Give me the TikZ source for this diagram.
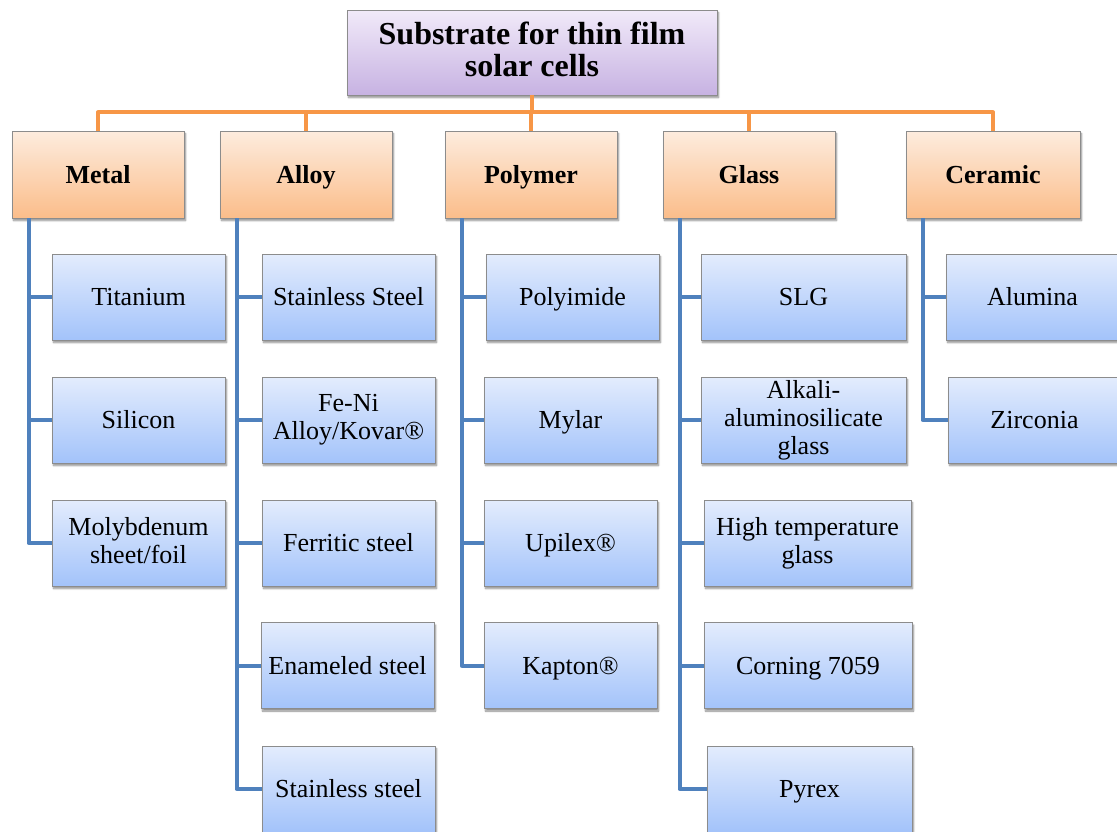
\documentclass[tikz,border=0pt]{standalone}
\usepackage{fontspec}
\setmainfont{Liberation Serif}
\usetikzlibrary{shadows.blur}

\definecolor{rootTop}{RGB}{241,234,249}
\definecolor{rootBot}{RGB}{199,178,226}
\definecolor{catTop}{RGB}{253,236,222}
\definecolor{catBot}{RGB}{251,189,138}
\definecolor{itemTop}{RGB}{227,236,253}
\definecolor{itemBot}{RGB}{163,195,250}
\definecolor{boxBorder}{RGB}{140,140,140}
\definecolor{orangeLine}{RGB}{247,150,70}
\definecolor{blueLine}{RGB}{79,129,189}

\tikzset{
  box/.style={draw=boxBorder, line width=0.8pt, inner sep=0pt, align=center,
    execute at begin node={\rule{0pt}{0.87em}}, execute at end node={\vphantom{y}},
    blur shadow={shadow xshift=1.5pt, shadow yshift=-2.5pt, shadow blur steps=5, shadow opacity=45}},
  rootbox/.style={box, top color=rootTop, bottom color=rootBot,
    execute at begin node={\rule{0pt}{1.06em}},
    minimum width=370pt, minimum height=85pt, font=\fontsize{32}{32}\selectfont\bfseries},
  catbox/.style={box, top color=catTop, bottom color=catBot,
    minimum width=172pt, minimum height=87pt, font=\fontsize{26}{28}\selectfont\bfseries},
  itembox/.style={box, top color=itemTop, bottom color=itemBot,
    minimum width=173pt, minimum height=86pt, font=\fontsize{26}{28}\selectfont},
  orangeline/.style={draw=orangeLine, line width=4pt, line join=round},
  blueline/.style={draw=blueLine, line width=4pt, line join=round},
}

\begin{document}
\begin{tikzpicture}[x=1pt,y=-1pt]
\useasboundingbox (0,0) rectangle (1117,831);
\clip (0,0) rectangle (1117,831);

% root
\node[rootbox] (root) at (532,52.5) {Substrate for thin film\\solar cells};

% categories
\node[catbox] (metal) at (98,174.5) {Metal};
\node[catbox] (alloy) at (306,174.5) {Alloy};
\node[catbox] (polymer) at (531,174.5) {Polymer};
\node[catbox] (glass) at (749,174.5) {Glass};
\node[catbox, minimum width=174pt] (ceramic) at (993,174.5) {Ceramic};

% metal
\node[itembox] (titanium) at (138.5,297) {Titanium};
\node[itembox] (silicon) at (138.5,420) {Silicon};
\node[itembox] (molybdenum) at (138.5,543) {Molybdenum\\sheet/foil};

% alloy
\node[itembox] (stainless) at (348.5,297) {Stainless Steel};
\node[itembox] (kovar) at (348.5,420) {Fe-Ni\\Alloy/Kovar®};
\node[itembox] (ferritic) at (348.5,543) {Ferritic steel};
\node[itembox] (enameled) at (347.5,665.5) {Enameled steel};
\node[itembox] (stainlessb) at (348.5,789) {Stainless steel};

% polymer
\node[itembox] (polyimide) at (572.5,297) {Polyimide};
\node[itembox] (mylar) at (570.5,420) {Mylar};
\node[itembox] (upilex) at (570.5,543) {Upilex®};
\node[itembox] (kapton) at (570.5,665.5) {Kapton®};

% glass
\node[itembox, minimum width=205pt] (slg) at (803.5,297) {SLG};
\node[itembox, minimum width=205pt] (alkali) at (803.5,420) {Alkali-\\aluminosilicate\\glass};
\node[itembox, minimum width=207pt] (hightemp) at (807.5,543) {High temperature\\glass};
\node[itembox, minimum width=208pt] (corning) at (808,665.5) {Corning 7059};
\node[itembox, minimum width=205pt] (pyrex) at (809.5,789) {Pyrex};

% ceramic
\node[itembox] (alumina) at (1032.5,297) {Alumina};
\node[itembox] (zirconia) at (1034.5,420) {Zirconia};

% root to categories
\foreach \c in {metal,alloy,polymer,glass,ceramic}
  \draw[orangeline] (root.south) -- ++(0,17) -| (\c.north);

% categories to items
\foreach \c/\kids in {metal/{titanium,silicon,molybdenum},
    alloy/{stainless,kovar,ferritic,enameled,stainlessb},
    polymer/{polyimide,mylar,upilex,kapton},
    glass/{slg,alkali,hightemp,corning,pyrex},
    ceramic/{alumina,zirconia}} {
  \coordinate (\c-spine) at ([xshift=17pt]\c.south west);
  \foreach \k in \kids
    \draw[blueline] (\c-spine) |- (\k.west);
}

\end{tikzpicture}
\end{document}
